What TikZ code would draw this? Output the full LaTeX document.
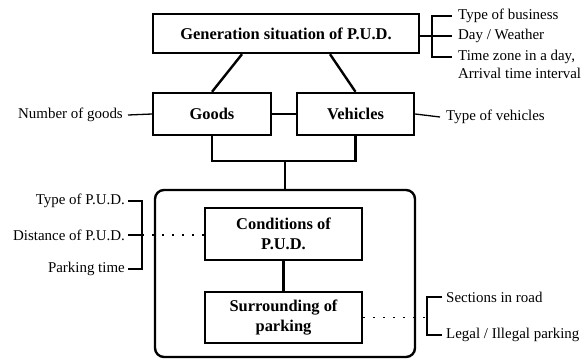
\documentclass[tikz,border=0pt]{standalone}
\usepackage{fontspec}
\setmainfont{Liberation Serif}
\begin{document}
\begin{tikzpicture}[x=1bp,y=-1bp,
  box/.style={draw, line width=2.4bp, inner sep=0pt, align=center,
    font=\fontsize{16.5}{20}\selectfont\bfseries},
  lbl/.style={inner sep=0pt, font=\fontsize{15}{15}\selectfont},
  conn/.style={line width=2.4bp},
  brk/.style={line width=1.3bp},
  dotline/.style={line width=1.5bp, dash pattern=on 1.5bp off 8.5bp}]
\useasboundingbox (0,0) rectangle (585,359);

% main boxes
\node[box, minimum width=266bp, minimum height=39bp] (gen) at (286,33.5) {Generation situation of P.U.D.};
\node[box, minimum width=118bp, minimum height=42bp] (goods) at (212,114) {Goods};
\node[box, minimum width=117bp, minimum height=42bp] (veh) at (355.5,114) {Vehicles};
\node[draw, line width=2.4bp, rounded corners=9bp, inner sep=0pt,
      minimum width=260bp, minimum height=167bp] (frame) at (285,273.5) {};
\node[box, minimum width=157bp, minimum height=52bp] (cond) at (283.5,234) {Conditions of\\P.U.D.};
\node[box, minimum width=157bp, minimum height=51bp] (surr) at (283.5,317.5) {Surrounding of\\parking};

% connectors between boxes
\draw[conn] ([xshift=-44bp]gen.south) -- (goods.north);
\draw[conn] ([xshift=44bp]gen.south) -- (veh.north);
\draw[conn] (goods.east) -- (veh.west);
\coordinate (bus) at (285,161);
\draw[conn] (goods.south) |- (bus) -| (veh.south);
\draw[conn] (bus) -- (frame.north);
\draw[conn] (cond.south) -- (surr.north);

% top right bracket
\node[lbl, anchor=west] (tb) at (458,16) {Type of business};
\node[lbl, anchor=west] (dw) at (458,36) {Day / Weather};
\node[lbl, anchor=west] (tz) at (458,57) {Time zone in a day,};
\node[lbl, anchor=west] (ati) at (458,73) {Arrival time interval};
\coordinate (brkT) at (432,36);
\draw[brk] (gen.east |- brkT) -- (brkT);
\draw[brk] ([xshift=-6bp]tb.west) -| (brkT) |- ([xshift=-6bp]tz.west);
\draw[brk] (brkT) -- ([xshift=-6bp]dw.west);

% goods / vehicles labels
\node[lbl, anchor=east] (nog) at (123,115) {Number of goods};
\draw[brk] ([xshift=5bp]nog.east) -- (goods.west);
\node[lbl, anchor=west] (tov) at (446,117) {Type of vehicles};
\draw[brk] (veh.east) -- ([xshift=-6bp]tov.west);

% left bracket
\node[lbl, anchor=east] (tp) at (125,201) {Type of P.U.D.};
\node[lbl, anchor=east] (dp) at (125,235) {Distance of P.U.D.};
\node[lbl, anchor=east] (pt) at (125,269) {Parking time};
\coordinate (lbv) at (142,235);
\draw[brk] ([xshift=3bp]tp.east) -| (lbv) |- ([xshift=3bp]pt.east);
\draw[brk] ([xshift=3bp]dp.east) -- (lbv);
\draw[dotline] (lbv) -- (lbv -| cond.west);

% right bracket
\node[lbl, anchor=west] (sr) at (446,297) {Sections in road};
\node[lbl, anchor=west] (lp) at (446,335) {Legal / Illegal parking};
\coordinate (rbv) at (427,317.5);
\draw[dotline] (surr.east) -- (rbv);
\draw[brk] ([xshift=-4bp]sr.west) -| (rbv) |- ([xshift=-4bp]lp.west);
\end{tikzpicture}
\end{document}
